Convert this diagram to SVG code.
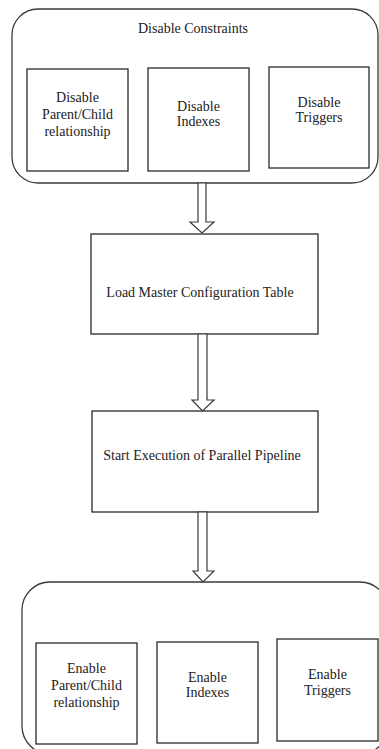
<svg xmlns="http://www.w3.org/2000/svg" width="379" height="749" viewBox="0 0 379 749">
<style>
.c{fill:#fff;stroke:#3a3a3a;stroke-width:1.3}
.b{fill:#fff;stroke:#2a2a2a;stroke-width:1.3}
text{font-family:'Liberation Serif','Times New Roman',Times,'DejaVu Serif',serif;font-size:14px;fill:#222;text-anchor:middle}
.a{fill:#fff;stroke:#3a3a3a;stroke-width:1.2;stroke-linejoin:miter}
</style>
<rect width="379" height="749" fill="#fff"/>
<g id="disable-constraints">
<rect class="c" x="12" y="9" width="366" height="174" rx="26" ry="26"/>
<text x="193" y="33">Disable Constraints</text>
</g>
<g id="disable-parent-child">
<rect class="b" x="27" y="69" width="101" height="102"/>
<text x="77.5" y="102">Disable</text>
<text x="77.5" y="119">Parent/Child</text>
<text x="77.5" y="136">relationship</text>
</g>
<g id="disable-indexes">
<rect class="b" x="148" y="68" width="101" height="103"/>
<text x="198.5" y="111">Disable</text>
<text x="198.5" y="126">Indexes</text>
</g>
<g id="disable-triggers">
<rect class="b" x="269" y="67" width="100" height="101"/>
<text x="319" y="107">Disable</text>
<text x="319" y="122">Triggers</text>
</g>
<g id="load-master">
<rect class="b" x="91" y="234" width="227" height="100"/>
<text x="200" y="297">Load Master Configuration Table</text>
</g>
<g id="start-execution">
<rect class="b" x="92" y="411" width="226" height="101"/>
<text x="202" y="460">Start Execution of Parallel Pipeline</text>
</g>
<g id="enable-constraints">
<rect class="c" x="22" y="582" width="366" height="172" rx="28" ry="28"/>
</g>
<g id="enable-parent-child">
<rect class="b" x="36" y="643" width="101" height="101"/>
<text x="86.5" y="673">Enable</text>
<text x="86.5" y="690">Parent/Child</text>
<text x="86.5" y="707">relationship</text>
</g>
<g id="enable-indexes">
<rect class="b" x="157" y="642" width="101" height="101"/>
<text x="207.5" y="682">Enable</text>
<text x="207.5" y="697">Indexes</text>
</g>
<g id="enable-triggers">
<rect class="b" x="277" y="639" width="101" height="102"/>
<text x="327.5" y="679">Enable</text>
<text x="327.5" y="695">Triggers</text>
</g>
<g id="connectors">
<polygon class="a" points="198,183 206,183 206,222 214,222 202,233 190,222 198,222"/>
<polygon class="a" points="198,334 207,334 207,400 214,400 202.5,411 192,400 198,400"/>
<polygon class="a" points="198,512 207,512 207,571 214,571 203,582 193,571 198,571"/>
</g>
</svg>
